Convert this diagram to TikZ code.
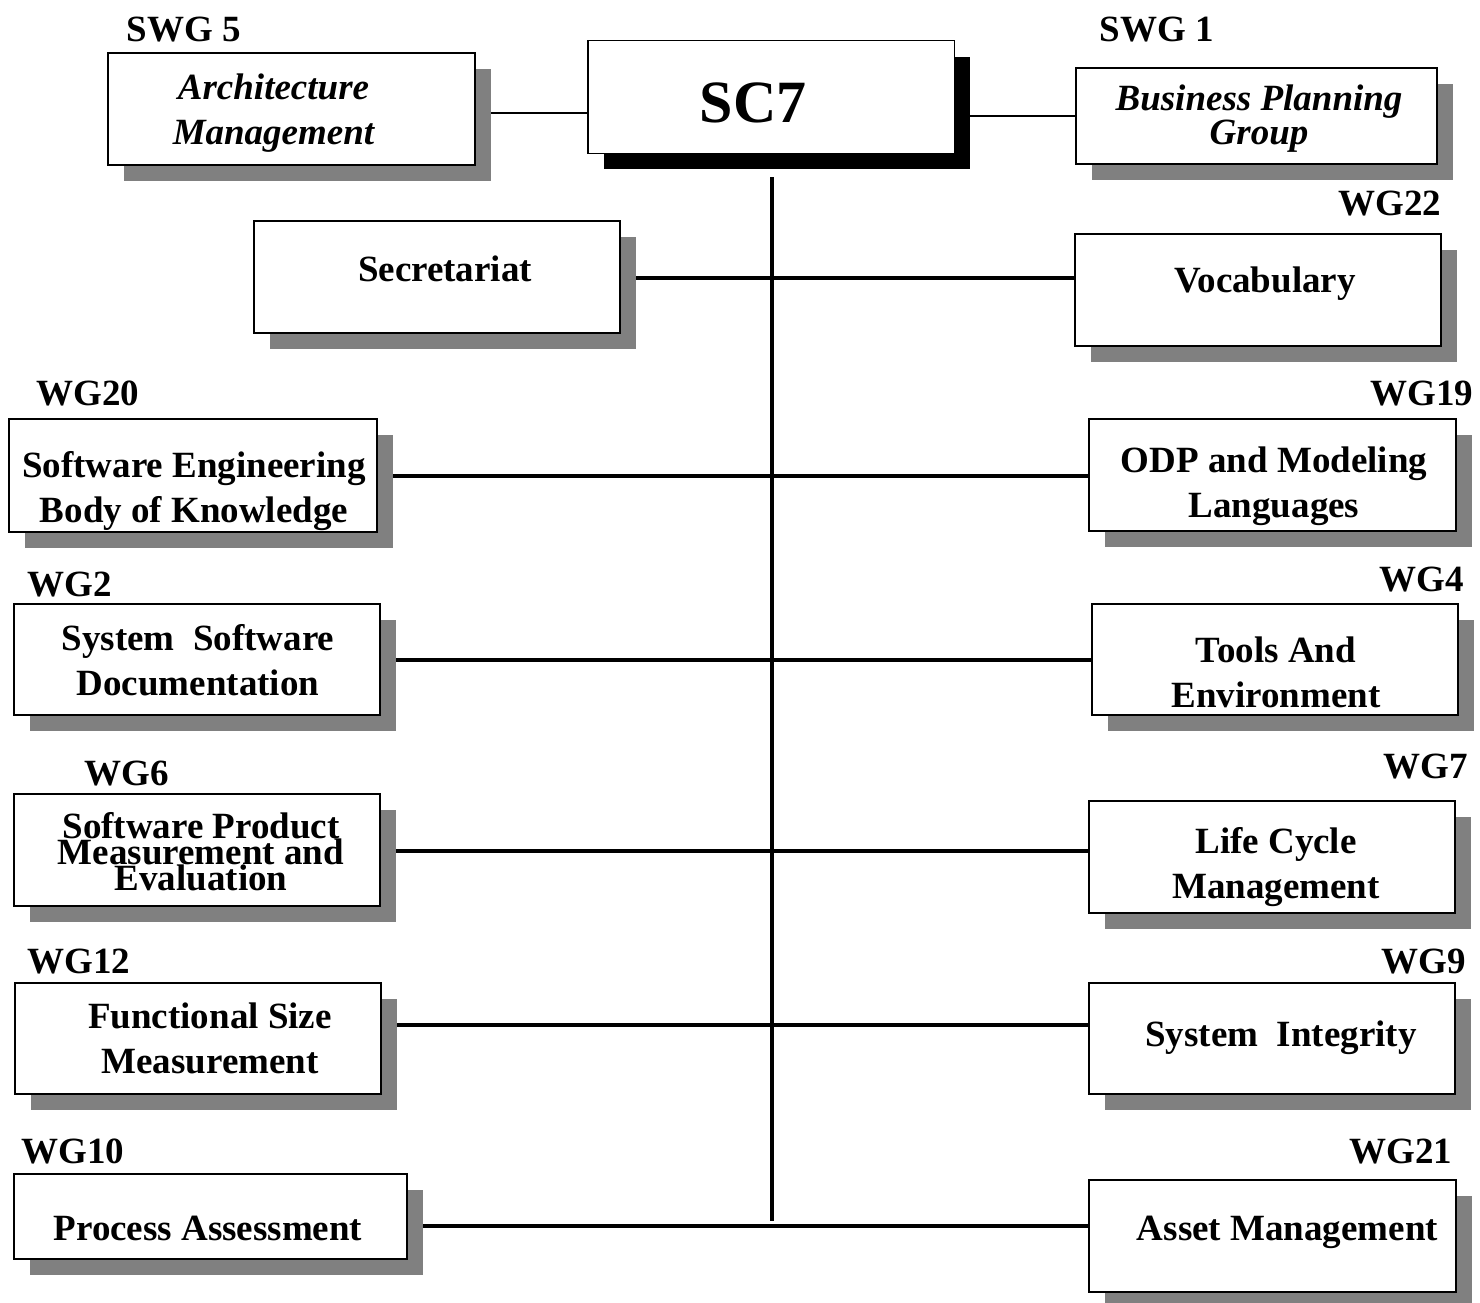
\documentclass[tikz,border=0pt]{standalone}
\usepackage{fontspec}
\setmainfont{Liberation Serif}
\usetikzlibrary{shadows,backgrounds}
\newcommand{\topst}{\rule{0pt}{30pt}}
\newcommand{\botst}{\rule[-10pt]{0pt}{10pt}}
\newcommand{\nolsk}{\lineskiplimit=-100pt\relax}
\begin{document}
\begin{tikzpicture}[x=1pt,y=-1pt,
  box/.style={draw, line width=2pt, fill=white, inner sep=0pt,
    general shadow={draw=none, fill=black!50, shadow xshift=16pt, shadow yshift=-16pt}},
  mainbox/.style={draw, line width=1.5pt, fill=white, inner sep=0pt,
    general shadow={draw=none, fill=black, shadow xshift=16pt, shadow yshift=-16pt}},
  txt/.style={inner sep=0pt, align=center,
    font={\bfseries\fontsize{37}{45}\selectfont\nolsk}},
  itxt/.style={txt, font={\bfseries\itshape\fontsize{37}{45}\selectfont\nolsk}},
  lbl/.style={inner sep=0pt, anchor=base, font={\bfseries\fontsize{37}{45}\selectfont}},
  thinline/.style={line width=2pt},
  thickline/.style={line width=4.5pt}]
\useasboundingbox (0,0) rectangle (1480,1303);

% boxes
\node[box, minimum width=367pt, minimum height=112pt] (swg5) at (291.5,109) {};
\node[mainbox, minimum width=366.5pt, minimum height=112.5pt] (sc7) at (771,97) {};
\node[box, minimum width=361pt, minimum height=96pt] (bpg) at (1256.5,116) {};
\node[box, minimum width=366pt, minimum height=112pt] (sec) at (437,277) {};
\node[box, minimum width=366pt, minimum height=112pt] (voc) at (1258,290) {};
\node[box, minimum width=368pt, minimum height=113pt] (wg20) at (193,475.5) {};
\node[box, minimum width=367pt, minimum height=112pt] (wg19) at (1272.5,475) {};
\node[box, minimum width=366pt, minimum height=111pt] (wg2) at (197,659.5) {};
\node[box, minimum width=366pt, minimum height=111pt] (wg4) at (1275,659.5) {};
\node[box, minimum width=366pt, minimum height=112pt] (wg6) at (197,850) {};
\node[box, minimum width=366pt, minimum height=112pt] (wg7) at (1272,857) {};
\node[box, minimum width=366pt, minimum height=111pt] (wg12) at (198,1038.5) {};
\node[box, minimum width=366pt, minimum height=111pt] (wg9) at (1272,1038.5) {};
\node[box, minimum width=393pt, minimum height=85pt] (wg10) at (210.5,1216.5) {};
\node[box, minimum width=367pt, minimum height=112pt] (wg21) at (1272.5,1236) {};

% box texts
\node[itxt] (t-swg5) at (273.5,112.5) {\topst Architecture\\Management\botst};
\node[inner sep=0pt, anchor=base, font={\bfseries\fontsize{60}{60}\selectfont}] (t-sc7) at (753,123) {SC7};
\node[itxt, font={\bfseries\itshape\fontsize{37}{34}\selectfont\nolsk}] (t-bpg) at (1259,117) {\topst Business Planning\\Group\botst};
\node[txt, anchor=base] (t-sec) at (445,281) {Secretariat};
\node[txt, anchor=base] (t-voc) at (1265,292) {Vocabulary};
\node[txt] (t-wg20) at (194,489.5) {\topst Software Engineering\\Body of Knowledge\botst};
\node[txt] (t-wg19) at (1274,484.5) {\topst ODP and Modeling\\Languages\botst};
\node[txt] (t-wg2) at (198,662.5) {\topst System~~Software\\Documentation\botst};
\node[txt] (t-wg4) at (1276,674.5) {\topst Tools And\\Environment\botst};
\node[txt, font={\bfseries\fontsize{37}{26}\selectfont\nolsk}] (t-wg6) at (201,854) {\topst Software Product\\Measurement and\\Evaluation\botst};
\node[txt] (t-wg7) at (1276,865.5) {\topst Life Cycle\\Management\botst};
\node[txt] (t-wg12) at (210,1040.5) {\topst Functional Size\\Measurement\botst};
\node[txt, anchor=base] (t-wg9) at (1281,1046) {System~~Integrity};
\node[txt, anchor=base] (t-wg10) at (208,1240) {Process Assessment};
\node[txt, anchor=base] (t-wg21) at (1287.5,1240) {Asset Management};

% labels
\node[lbl] (l-swg5) at (184,42) {SWG 5};
\node[lbl] (l-swg1) at (1157,42) {SWG 1};
\node[lbl] (l-wg22) at (1390,215) {WG22};
\node[lbl] (l-wg20) at (88,405) {WG20};
\node[lbl] (l-wg19) at (1422,405) {WG19};
\node[lbl] (l-wg2) at (70,596) {WG2};
\node[lbl] (l-wg4) at (1422,591) {WG4};
\node[lbl] (l-wg6) at (127,785) {WG6};
\node[lbl] (l-wg7) at (1426,778) {WG7};
\node[lbl] (l-wg12) at (79,973) {WG12};
\node[lbl] (l-wg9) at (1424,973) {WG9};
\node[lbl] (l-wg10) at (73,1163) {WG10};
\node[lbl] (l-wg21) at (1401,1163) {WG21};

% spine coordinates
\coordinate (spT) at (772,177);
\coordinate (spB) at (772,1221);
\coordinate (r1) at (772,278);
\coordinate (r2) at (772,476);
\coordinate (r3) at (772,660);
\coordinate (r4) at (772,851);
\coordinate (r5) at (772,1025);
\coordinate (r6) at (772,1226);

\begin{pgfonlayer}{background}
\fill[white] (0,0) rectangle (1480,1303);
\draw[thinline] ([yshift=-4pt]swg5.east) -- ([yshift=-4pt]swg5.east -| sc7.west);
\draw[thinline] (bpg.west) -- (bpg.west -| sc7.east);
\draw[thickline] (spT) -- (spB);
\draw[thickline] (r1 -| sec.east) -- (r1 -| voc.west);
\draw[thickline] (r2 -| wg20.east) -- (r2 -| wg19.west);
\draw[thickline] (r3 -| wg2.east) -- (r3 -| wg4.west);
\draw[thickline] (r4 -| wg6.east) -- (r4 -| wg7.west);
\draw[thickline] (r5 -| wg12.east) -- (r5 -| wg9.west);
\draw[thickline] (r6 -| wg10.east) -- (r6 -| wg21.west);
\end{pgfonlayer}
\end{tikzpicture}
\end{document}
